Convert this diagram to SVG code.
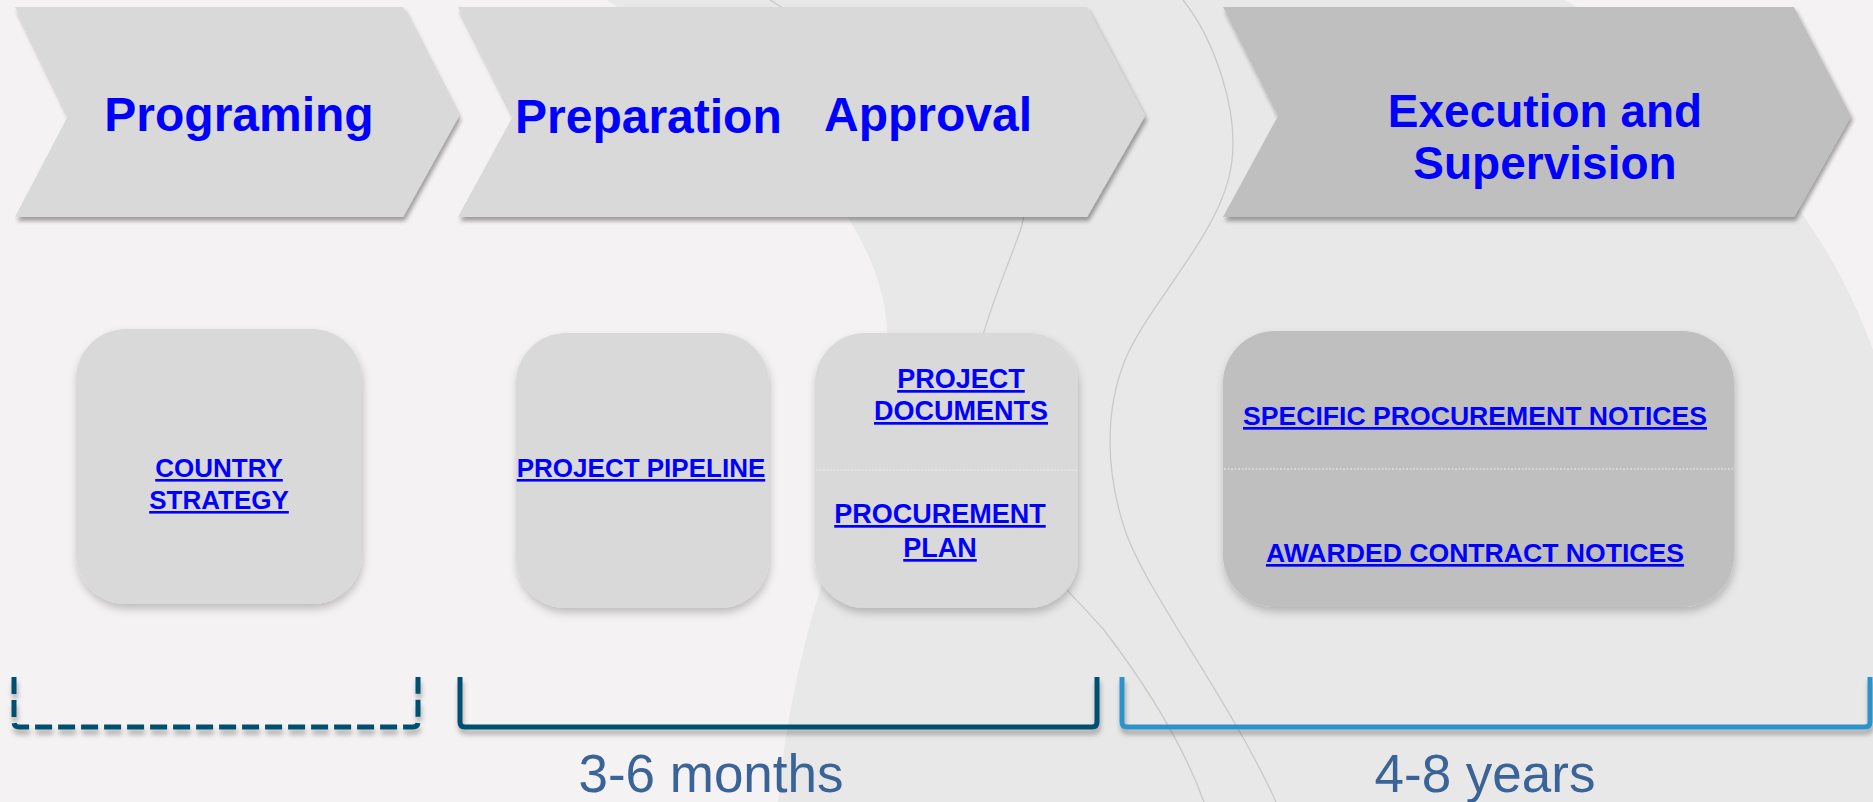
<svg xmlns="http://www.w3.org/2000/svg" width="1873" height="802" viewBox="0 0 1873 802">
  <defs>
    <filter id="chevShadow" x="-5%" y="-10%" width="110%" height="125%">
      <feDropShadow dx="2" dy="4" stdDeviation="2" flood-color="#000" flood-opacity="0.35"/>
    </filter>
    <filter id="boxShadow" x="-10%" y="-10%" width="120%" height="125%">
      <feDropShadow dx="1" dy="5" stdDeviation="4" flood-color="#000" flood-opacity="0.22"/>
    </filter>
    <filter id="brShadow" x="-5%" y="-30%" width="110%" height="180%">
      <feDropShadow dx="1" dy="5" stdDeviation="2.5" flood-color="#000" flood-opacity="0.3"/>
    </filter>
  </defs>
  <style>
    .chev { fill: #d9d9d9; filter: url(#chevShadow); }
    .chev.dark { fill: #bfbfbf; }
    .box { fill: #d9d9d9; filter: url(#boxShadow); }
    .box.dark { fill: #bfbfbf; }
    .title { font-family: "Liberation Sans", Arial, sans-serif; font-weight: bold; font-size: 48px; fill: #0000ff; }
    .title2 { font-size: 46px; }
    .link { font-family: "Liberation Sans", Arial, sans-serif; font-weight: bold; font-size: 26px; fill: #0000ff; text-decoration: underline; text-anchor: middle; }
    .link27 { font-size: 27px; }
    .divider { stroke: #ececec; stroke-width: 1.2; stroke-dasharray: 2 1.5; }
    .bgline { fill: none; stroke: #c9c9c9; stroke-width: 1.3; }
    .bracket { fill: none; stroke-width: 5; stroke-linecap: butt; stroke-linejoin: round; filter: url(#brShadow); }
    .dur { font-family: "Liberation Sans", Arial, sans-serif; font-size: 53px; fill: #3a6498; text-anchor: middle; }
  </style>

  <!-- background -->
  <rect x="0" y="0" width="1873" height="802" fill="#f5f2f3"/>
  <path d="M 607 0 L 1565 0 C 1700 80 1820 200 1873 350 L 1873 802 L 778 802 C 800 560 893 450 887 330 C 880 200 740 90 607 0 Z" fill="#e8e8e8"/>
  <path class="bgline" d="M 770 0 C 900 80 1040 170 1022 225 C 1005 280 960 360 975 440 C 990 520 1060 580 1104 630 C 1150 690 1185 750 1204 802"/>
  <path class="bgline" d="M 1183 0 C 1215 40 1238 110 1232 160 C 1225 230 1150 300 1125 360 C 1105 410 1105 470 1125 530 C 1145 590 1230 700 1276 802"/>

  <!-- phase chevrons -->
  <g id="phase-programing">
    <polygon class="chev" points="15,7 403,7 459,116 403,217 15,217 68,116"/>
    <text class="title" x="239" y="131" text-anchor="middle">Programing</text>
  </g>
  <g id="phase-preparation-approval">
    <polygon class="chev" points="458,7 1087,7 1145,116 1087,217 458,217 513,116"/>
    <text class="title" x="515" y="133">Preparation</text>
    <text class="title" x="824" y="131">Approval</text>
  </g>
  <g id="phase-execution">
    <polygon class="chev dark" points="1223,7 1794,7 1851,116 1794,217 1223,217 1278,116"/>
    <text class="title title2" x="1545" y="127" text-anchor="middle">Execution and</text>
    <text class="title title2" x="1545" y="179" text-anchor="middle">Supervision</text>
  </g>

  <!-- document boxes -->
  <g id="box-country-strategy">
    <rect class="box" x="76" y="329" width="286" height="275" rx="50" ry="50"/>
    <text class="link" x="219" y="477">COUNTRY</text>
    <text class="link" x="219" y="509">STRATEGY</text>
  </g>
  <g id="box-project-pipeline">
    <rect class="box" x="516" y="333" width="253" height="275" rx="50" ry="50"/>
    <text class="link" x="641" y="477">PROJECT PIPELINE</text>
  </g>
  <g id="box-project-documents">
    <rect class="box" x="815" y="333" width="263" height="275" rx="50" ry="50"/>
    <line class="divider" x1="816" y1="470" x2="1077" y2="470"/>
    <text class="link link27" x="961" y="388">PROJECT</text>
    <text class="link link27" x="961" y="420">DOCUMENTS</text>
    <text class="link link27" x="940" y="523">PROCUREMENT</text>
    <text class="link link27" x="940" y="557">PLAN</text>
  </g>
  <g id="box-notices">
    <rect class="box dark" x="1223" y="331" width="511" height="276" rx="52" ry="52"/>
    <line class="divider" x1="1224" y1="469" x2="1733" y2="469"/>
    <text class="link" x="1475" y="425" style="font-size:26.6px">SPECIFIC PROCUREMENT NOTICES</text>
    <text class="link" x="1475" y="562" style="font-size:26.6px">AWARDED CONTRACT NOTICES</text>
  </g>

  <!-- timeline brackets -->
  <g id="timeline">
    <path class="bracket" stroke="#00506f" stroke-dasharray="17 6" d="M 14 677 L 14 722 Q 14 727 19 727 L 413 727 Q 418 727 418 722 L 418 677"/>
    <path class="bracket" stroke="#004f6f" d="M 460 677 L 460 722 Q 460 727 465 727 L 1092 727 Q 1097 727 1097 722 L 1097 677"/>
    <path class="bracket" stroke="#2a93c9" d="M 1122 677 L 1122 722 Q 1122 727 1127 727 L 1865 727 Q 1870 727 1870 722 L 1870 677"/>
  </g>
  <g id="durations">
    <text class="dur" x="711" y="792">3-6 months</text>
    <text class="dur" x="1485" y="792">4-8 years</text>
  </g>
</svg>
